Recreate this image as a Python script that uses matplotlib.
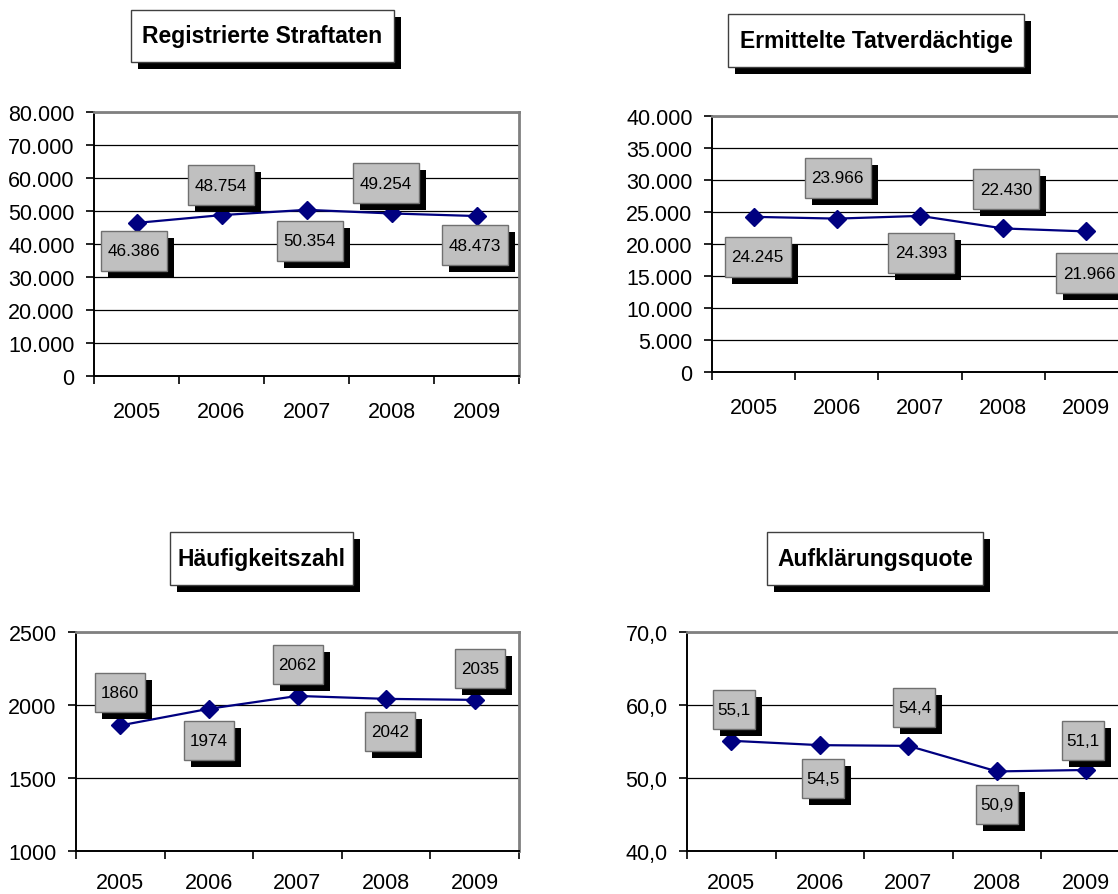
import matplotlib
matplotlib.use("Agg")
import matplotlib.pyplot as plt
from matplotlib.patches import Rectangle
from matplotlib.transforms import IdentityTransform, ScaledTranslation
from matplotlib.ticker import FixedLocator

plt.rcParams['font.family'] = ['Liberation Sans', 'DejaVu Sans']

# ---------------- data ----------------
years = ["2005", "2006", "2007", "2008", "2009"]

straftaten = [46386, 48754, 50354, 49254, 48473]
tatverdaechtige = [24245, 23966, 24393, 22430, 21966]
haeufigkeitszahl = [1860, 1974, 2062, 2042, 2035]
aufklaerungsquote = [55.1, 54.5, 54.4, 50.9, 51.1]

titles = ["Registrierte Straftaten", "Ermittelte Tatverdächtige",
          "Häufigkeitszahl", "Aufklärungsquote"]

yticks_1 = [0, 10000, 20000, 30000, 40000, 50000, 60000, 70000, 80000]
ylabels_1 = ["0", "10.000", "20.000", "30.000", "40.000", "50.000", "60.000", "70.000", "80.000"]
yticks_2 = [0, 5000, 10000, 15000, 20000, 25000, 30000, 35000, 40000]
ylabels_2 = ["0", "5.000", "10.000", "15.000", "20.000", "25.000", "30.000", "35.000", "40.000"]
yticks_3 = [1000, 1500, 2000, 2500]
ylabels_3 = ["1000", "1500", "2000", "2500"]
yticks_4 = [40, 50, 60, 70]
ylabels_4 = ["40,0", "50,0", "60,0", "70,0"]


def de_int(v):
    return f"{v:,}".replace(",", ".")


def de_dec(v):
    return f"{v:.1f}".replace(".", ",")


# ---------------- layout (pixels in the 1118x895 image) ----------------
W, H = 1118, 895
fig = plt.figure(figsize=(W / 100, H / 100), dpi=100)

panels = [
    dict(values=straftaten, yticks=yticks_1, ylabels=ylabels_1, fmt=de_int,
         rect=(94, 113, 519, 377), title_box=(131, 11, 394, 63), box=(66, 40),
         offsets=[(-3, 28), (-1, -30), (3, 31), (-6, -30), (-2, 29)], xpad=18),
    dict(values=tatverdaechtige, yticks=yticks_2, ylabels=ylabels_2, fmt=de_int,
         rect=(712, 117, 1128, 373), title_box=(728, 15, 1024, 68), box=(66, 40),
         offsets=[(4, 40), (1, -41), (1, 37), (3, -39), (3, 42)], xpad=18),
    dict(values=haeufigkeitszahl, yticks=yticks_3, ylabels=ylabels_3, fmt=str,
         rect=(76, 633, 519, 852), title_box=(170, 533, 353, 586), box=(50, 39),
         offsets=[(0, -33), (0, 32), (0, -31), (4, 33), (5, -31)], xpad=15),
    dict(values=aufklaerungsquote, yticks=yticks_4, ylabels=ylabels_4, fmt=de_dec,
         rect=(687, 633, 1130, 852), title_box=(767, 533, 983, 586), box=(42, 39),
         offsets=[(3, -31), (3, 33), (6, -38), (0, 33), (-3, -29)], xpad=15),
]

SH = 7  # shadow offset in pixels
navy = "#000080"

for p, title in zip(panels, titles):
    l, t, r, b = p["rect"]
    ax = fig.add_axes([l / W, 1 - b / H, (r - l) / W, (b - t) / H])
    x = list(range(len(years)))
    ax.plot(x, p["values"], color=navy, lw=1.6, marker="D", ms=9.5,
            markerfacecolor=navy, markeredgecolor=navy, zorder=3, clip_on=False)
    ax.set_xlim(-0.5, len(years) - 0.5)
    ax.set_ylim(p["yticks"][0], p["yticks"][-1])

    ax.set_yticks(p["yticks"])
    ax.set_yticklabels(p["ylabels"])
    ax.set_xticks(x)
    ax.set_xticklabels(years)
    ax.xaxis.set_minor_locator(FixedLocator([i - 0.5 for i in range(len(years) + 1)]))
    ax.tick_params(axis="x", which="major", length=0, pad=p["xpad"], labelsize=15.5)
    ax.tick_params(axis="x", which="minor", length=6, width=1.2, direction="out", color="black")
    ax.tick_params(axis="y", which="major", length=6, width=1.2, direction="out",
                   pad=8, labelsize=15.5)

    ax.yaxis.grid(True, color="black", lw=0.9, zorder=0)
    ax.set_axisbelow(True)
    for s in ("left", "bottom"):
        ax.spines[s].set_color("black")
        ax.spines[s].set_linewidth(1.4)
    for s in ("top", "right"):
        ax.spines[s].set_color("#808080")
        ax.spines[s].set_linewidth(2.0)

    # data label boxes with shadows
    bw, bh = p["box"]
    for xi, yi, (dx, dy) in zip(x, p["values"], p["offsets"]):
        trans = IdentityTransform() + ScaledTranslation(xi, yi, ax.transData)
        shadow = Rectangle((dx - bw / 2 + SH, -dy - bh / 2 - SH), bw, bh,
                           transform=trans, facecolor="black", edgecolor="none",
                           zorder=4, clip_on=False)
        box = Rectangle((dx - bw / 2, -dy - bh / 2), bw, bh, transform=trans,
                        facecolor="#c0c0c0", edgecolor="#707070", lw=1.0,
                        zorder=5, clip_on=False)
        ax.add_artist(shadow)
        ax.add_artist(box)
        ax.annotate(p["fmt"](yi), xy=(xi, yi), xytext=(dx, -dy),
                    textcoords="offset pixels", ha="center", va="center",
                    fontsize=12.3, color="black", zorder=6, annotation_clip=False)

    # title box with shadow
    tl, tt, tr, tb = p["title_box"]
    fig.add_artist(Rectangle((tl + SH, H - tb - SH), tr - tl, tb - tt,
                             transform=IdentityTransform(), facecolor="black",
                             edgecolor="none", zorder=4))
    fig.add_artist(Rectangle((tl, H - tb), tr - tl, tb - tt,
                             transform=IdentityTransform(), facecolor="white",
                             edgecolor="#404040", lw=1.0, zorder=5))
    fig.text((tl + tr) / 2 / W, 1 - (tt + tb) / 2 / H, title, ha="center",
             va="center", fontsize=16.5, fontweight="bold", zorder=6)

fig.savefig("out.png", dpi=100)
